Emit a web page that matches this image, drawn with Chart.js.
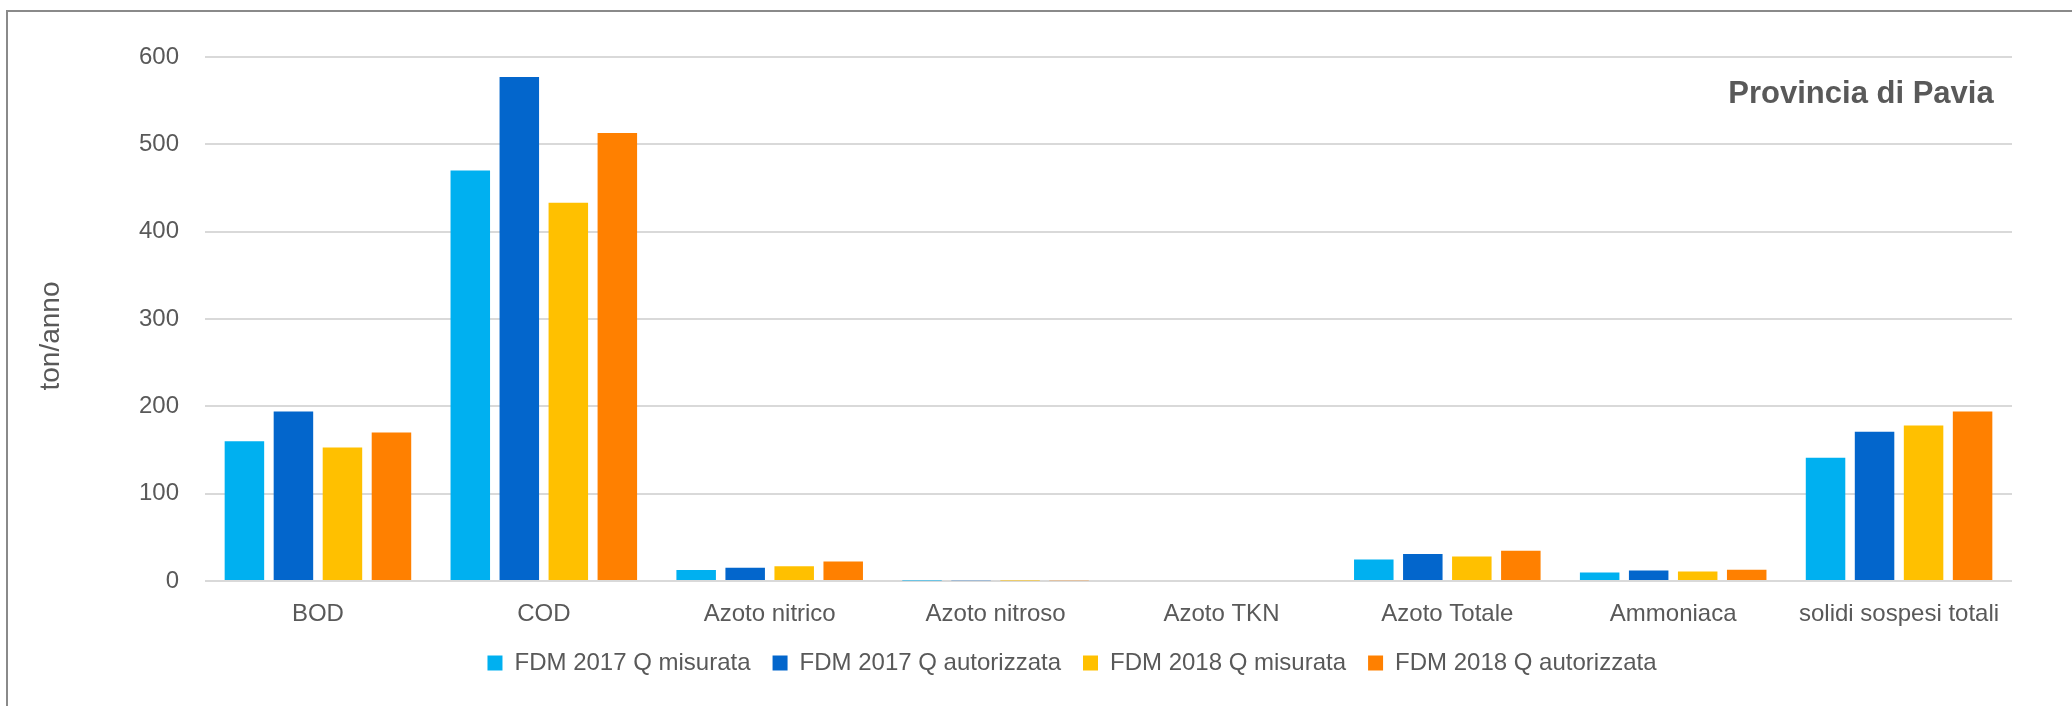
<!DOCTYPE html>
<html>
<head>
<meta charset="utf-8">
<script src="https://cdn.jsdelivr.net/npm/chart.js@4"></script>
<style>
  html, body { margin: 0; padding: 0; background: #fff; overflow: hidden; }
  body { width: 2072px; height: 706px; position: relative; }
  #frame { position: absolute; left: 6px; top: 10px; width: 3000px; height: 3000px;
           border-left: 2px solid #8a8a8a; border-top: 2px solid #8a8a8a; }
  #chart { position: absolute; left: 0; top: 0; }
</style>
</head>
<body>
<div id="frame"></div>
<canvas id="chart" width="2072" height="706"></canvas>
<script>
// Provincia di Pavia - carichi inquinanti (ton/anno)

const categories = ['BOD', 'COD', 'Azoto nitrico', 'Azoto nitroso', 'Azoto TKN',
                    'Azoto Totale', 'Ammoniaca', 'solidi sospesi totali'];

const seriesNames = ['FDM 2017 Q misurata', 'FDM 2017 Q autorizzata',
                     'FDM 2018 Q misurata', 'FDM 2018 Q autorizzata'];

const q2017misurata    = [160, 470, 12.7, 0.7, 0, 24.5, 9.6, 141];
const q2017autorizzata = [194, 577, 15.3, 0.9, 0, 31, 11.9, 171];
const q2018misurata    = [153, 433, 16.8, 0.6, 0, 28, 11, 178];
const q2018autorizzata = [170, 513, 22.2, 0.8, 0, 34.5, 13, 194];

const yTicks = [0, 100, 200, 300, 400, 500, 600];

const colors = ['#00B0F0', '#0366CC', '#FFC000', '#FF8000'];
const grey = '#595959';
const FONT = '"Liberation Sans", Arial, sans-serif';

// testi dentro il grafico (titolo provincia e titolo asse y)
const textPlugin = {
  id: 'texts',
  afterDraw(chart) {
    const c = chart.ctx;
    c.save();
    c.fillStyle = grey;
    c.textAlign = 'center';
    c.textBaseline = 'middle';
    c.font = 'bold 31px ' + FONT;
    c.fillText('Provincia di Pavia', 1861, 94);
    c.translate(51, 336);
    c.rotate(-Math.PI / 2);
    c.font = '28px ' + FONT;
    c.fillText('ton/anno', 0, 0);
    c.restore();
  }
};

const allSeries = [q2017misurata, q2017autorizzata, q2018misurata, q2018autorizzata];

new Chart(document.getElementById('chart').getContext('2d'), {
  type: 'bar',
  data: {
    labels: categories,
    datasets: allSeries.map((d, i) => ({
      label: seriesNames[i],
      data: d,
      backgroundColor: colors[i],
      borderWidth: 0,
      categoryPercentage: 0.868,
      barPercentage: 0.806
    }))
  },
  options: {
    responsive: false,
    devicePixelRatio: 1,
    animation: false,
    layout: { padding: { left: 132, right: 60, top: 57, bottom: 21 } },
    plugins: {
      legend: {
        position: 'bottom',
        labels: {
          boxWidth: 15, boxHeight: 15, padding: 22,
          color: grey, font: { family: FONT, size: 24 }
        }
      },
      tooltip: { enabled: false }
    },
    scales: {
      x: {
        grid: { display: false, drawTicks: false },
        border: { display: false },
        afterFit: (s) => { s.height = 48; },
        ticks: { color: grey, padding: 19, maxRotation: 0, font: { family: FONT, size: 24 } }
      },
      y: {
        min: 0, max: 600,
        afterBuildTicks: (s) => { s.ticks = yTicks.map(v => ({ value: v })); },
        afterFit: (s) => { s.width = 73; },
        grid: { color: '#D9D9D9', lineWidth: 2, drawTicks: false },
        border: { display: false },
        ticks: { color: grey, padding: 26, font: { family: FONT, size: 24 } }
      }
    }
  },
  plugins: [textPlugin]
});
</script>
</body>
</html>
